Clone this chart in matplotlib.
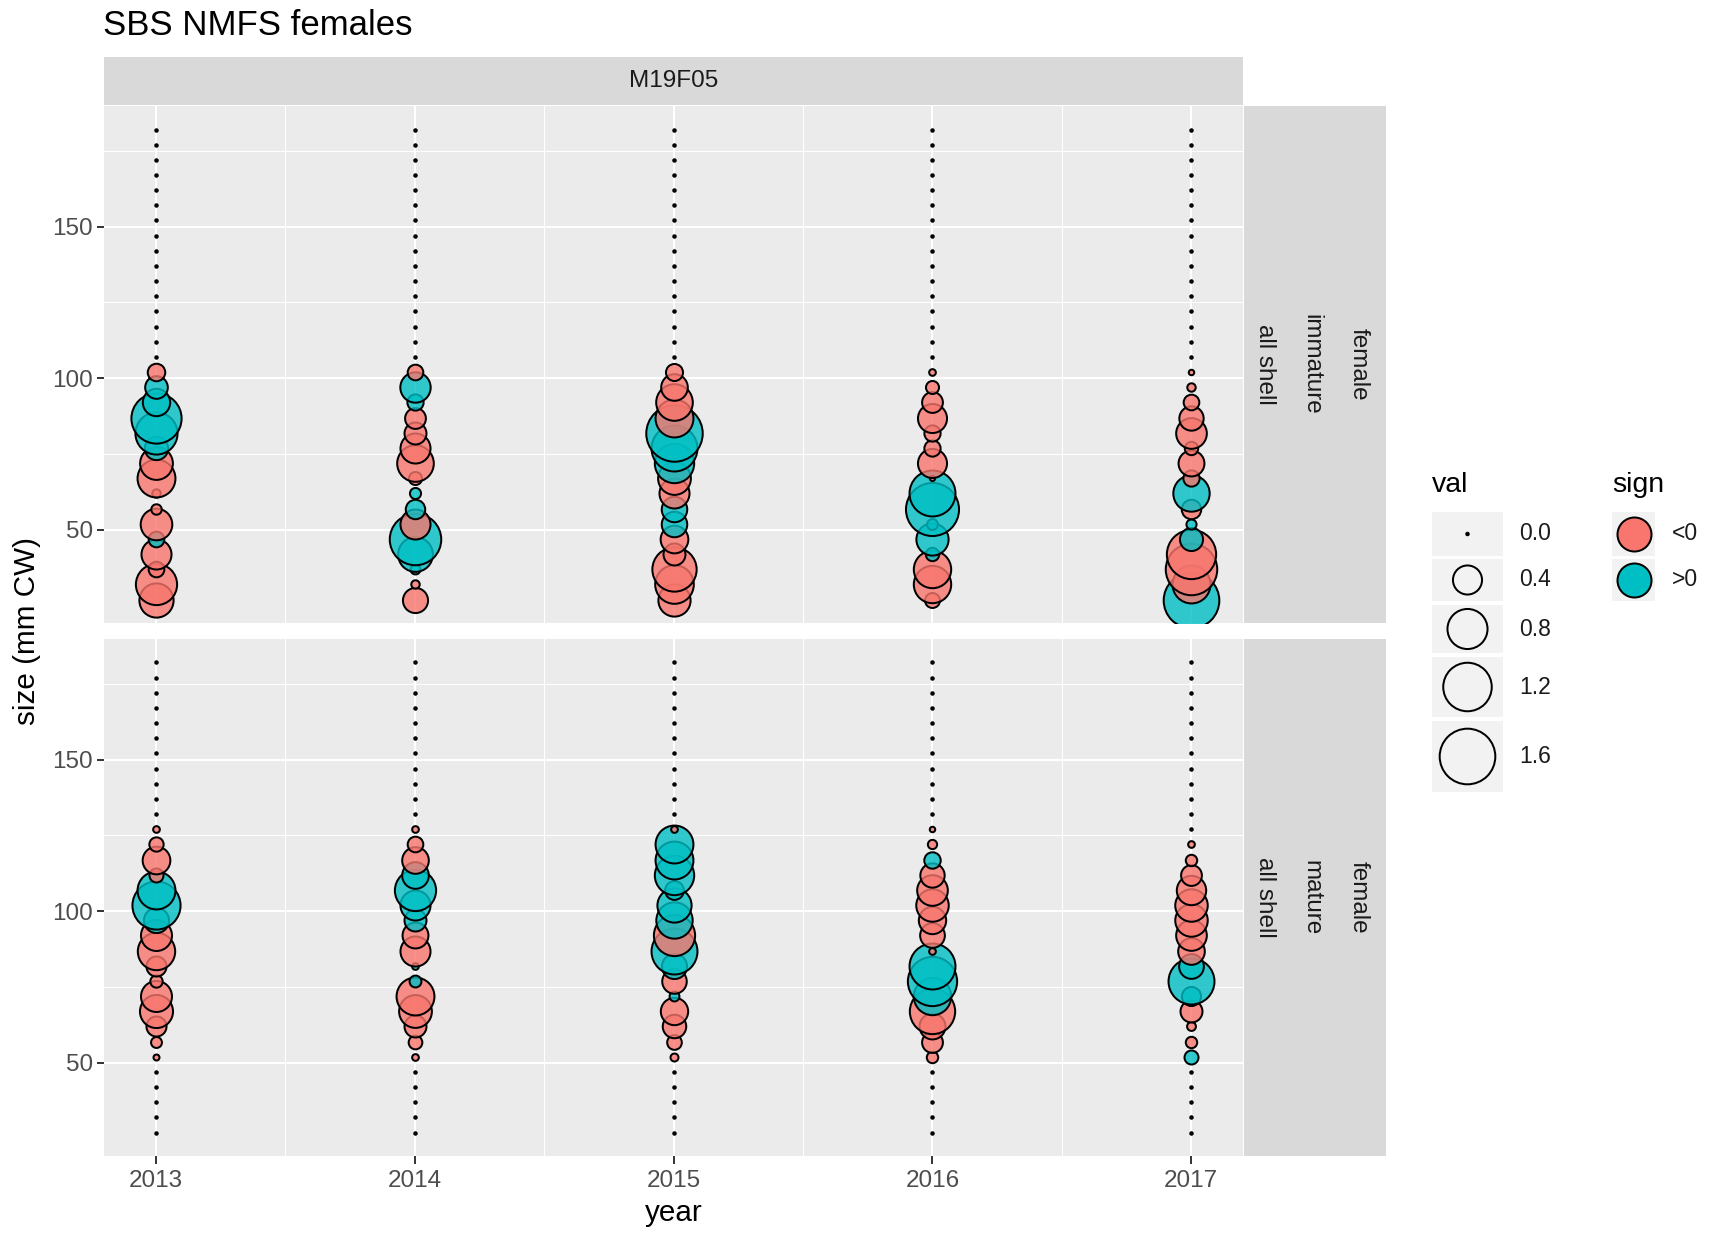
import numpy as np
import matplotlib
matplotlib.use("Agg")
import matplotlib.pyplot as plt
from matplotlib.patches import Rectangle

plt.rcParams["font.family"] = ["Liberation Sans", "DejaVu Sans"]

# -----------------------
# Data
# -----------------------

years = [2013, 2014, 2015, 2016, 2017]

size_bins = [27, 32, 37, 42, 47, 52, 57, 62, 67, 72, 77, 82, 87, 92, 97, 102,
             107, 112, 117, 122, 127, 132, 137, 142, 147, 152, 157, 162, 167,
             172, 177, 182]

# immature: values for size bins 27 .. 102 (larger bins are 0)
imm_2013 = [-0.57, -0.85, -0.098, -0.43, 0.098, -0.48, -0.036, -0.02, -0.71, -0.52, 0.245, 0.89, 1.29, 0.35, 0.23, -0.128]
imm_2014 = [-0.29, -0.02, 0.031, 0.59, 1.36, -0.43, 0.163, 0.042, -0.063, -0.66, -0.43, -0.215, -0.19, 0.107, 0.44, -0.098]
imm_2015 = [-0.5, -0.74, -0.99, -0.215, -0.36, 0.3, 0.3, -0.43, -0.52, 0.77, 1.07, 1.65, -0.71, -0.66, -0.33, -0.12]
imm_2016 = [-0.088, -0.69, -0.69, 0.067, 0.5, 0.04, 1.45, 1.07, -0.004, -0.4, -0.107, -0.107, -0.4, -0.19, -0.063, -0.01]
imm_2017 = [1.6, -0.71, -1.36, -1.24, 0.24, 0.033, -0.163, 0.65, -0.107, -0.31, -0.067, -0.45, -0.27, -0.098, -0.02, -0.005]

# mature: values for size bins 47 .. 132 (other bins are 0)
mat_2013 = [0, -0.007, -0.04, -0.175, -0.53, -0.46, -0.055, -0.175, -0.69, -0.46, 0.29, 1.18, 0.71, -0.075, -0.36, -0.079, -0.01, 0]
mat_2014 = [0, -0.01, -0.071, -0.215, -0.52, -0.71, 0.05, 0.01, -0.43, -0.31, 0.215, 0.43, 0.85, 0.33, -0.33, -0.098, -0.01, 0]
mat_2015 = [0, -0.017, -0.084, -0.25, -0.35, 0.031, -0.275, 0.29, 1.07, -0.85, 0.65, 0.57, 0.15, 0.77, 0.71, 0.71, -0.01, 0]
mat_2016 = [0, -0.045, -0.19, -0.31, -1.04, 0.69, 1.24, 1.07, -0.01, -0.28, -0.35, -0.51, -0.45, -0.27, 0.11, -0.026, -0.005, 0]
mat_2017 = [0, 0.075, -0.045, -0.023, -0.215, 0.157, 1.07, 0.28, -0.33, -0.45, -0.51, -0.51, -0.41, -0.19, -0.045, -0.01, 0, 0]

imm_values = [imm_2013, imm_2014, imm_2015, imm_2016, imm_2017]
mat_values = [mat_2013, mat_2014, mat_2015, mat_2016, mat_2017]

legend_vals = [0.0, 0.4, 0.8, 1.2, 1.6]
legend_labels = ["0.0", "0.4", "0.8", "1.2", "1.6"]
sign_labels = ["<0", ">0"]

strip_top = "M19F05"
strip_rows = [["all shell", "immature", "female"], ["all shell", "mature", "female"]]

# -----------------------
# Helpers
# -----------------------

W, H, DPI = 1713, 1233, 100
PINK = "#F8766D"
CYAN = "#00BFC4"
PX = 72 / DPI  # points per pixel


def to_full(vals, first_bin):
    out = np.zeros(len(size_bins))
    i0 = size_bins.index(first_bin)
    out[i0:i0 + len(vals)] = vals
    return out


def marker_area(v):
    d_px = 4.5 + 42 * np.sqrt(np.abs(v))
    return ((d_px - 2) * PX) ** 2


def fig_box(x0, y0, x1, y1):
    return [x0 / W, 1 - y1 / H, (x1 - x0) / W, (y1 - y0) / H]


# -----------------------
# Figure
# -----------------------

fig = plt.figure(figsize=(W / DPI, H / DPI), dpi=DPI)

panel_px = [(104, 106, 1243, 623), (104, 639, 1243, 1156)]
panels = [(imm_values, 27), (mat_values, 47)]

for k, ((vals_list, first_bin), box) in enumerate(zip(panels, panel_px)):
    ax = fig.add_axes(fig_box(*box))
    ax.set_facecolor("#EBEBEB")
    for s in ax.spines.values():
        s.set_visible(False)

    ax.set_xlim(2012.8, 2017.2)
    ax.set_ylim(19.25, 189.75)
    ax.set_xticks(years)
    ax.set_xticks([2013.5, 2014.5, 2015.5, 2016.5], minor=True)
    ax.set_yticks([50, 100, 150])
    ax.set_yticks([75, 125, 175], minor=True)
    ax.grid(which="major", color="white", linewidth=1.5)
    ax.grid(which="minor", color="white", linewidth=0.75)
    ax.set_axisbelow(True)
    ax.tick_params(which="minor", length=0)
    ax.tick_params(which="major", color="#333333", length=5.4, width=1.4,
                   labelsize=17.5, labelcolor="#4D4D4D", pad=2.5)
    ax.tick_params(axis="x", which="major", pad=5)
    if k == 0:
        ax.tick_params(axis="x", which="major", length=0, labelbottom=False)

    for yr, vals in zip(years, vals_list):
        v = to_full(vals, first_bin)
        colors = [CYAN if x > 0 else PINK for x in v]
        # ascending size order: larger bins drawn on top
        for sz, val, c in zip(size_bins, v, colors):
            ax.scatter([yr], [sz], s=marker_area(val), facecolor=c,
                       edgecolor="black", linewidth=2 * PX, zorder=3)
    for coll in ax.collections:
        fc = coll.get_facecolor()
        fc[:, 3] = 0.8
        coll.set_facecolor(fc)

    # right strip
    x0, y0, x1, y1 = box
    sax = fig.add_axes(fig_box(1244, y0, 1386, y1))
    sax.set_facecolor("#D9D9D9")
    sax.set_xticks([])
    sax.set_yticks([])
    for s in sax.spines.values():
        s.set_visible(False)
    for xr, lab in zip([0.145, 0.475, 0.805], strip_rows[k]):
        sax.text(xr, 0.5, lab, rotation=-90, ha="center", va="center",
                 fontsize=17.5, color="#1A1A1A", transform=sax.transAxes)

# top strip
tax = fig.add_axes(fig_box(104, 57, 1243, 105))
tax.set_facecolor("#D9D9D9")
tax.set_xticks([])
tax.set_yticks([])
for s in tax.spines.values():
    s.set_visible(False)
tax.text(0.5, 0.5, strip_top, ha="center", va="center", fontsize=17.5,
         color="#1A1A1A", transform=tax.transAxes)

# titles
fig.text(103 / W, 1 - 35 / H, "SBS NMFS females", fontsize=25,
         ha="left", va="baseline")
fig.text(673.5 / W, 1 - 1213 / H, "year", fontsize=21.3, ha="center", va="center")
fig.text(27 / W, 1 - 631 / H, "size (mm CW)", fontsize=21.3, rotation=90,
         ha="center", va="center")

# -----------------------
# Legend
# -----------------------

lax = fig.add_axes([0, 0, 1, 1], zorder=5)
lax.set_xlim(0, W)
lax.set_ylim(H, 0)
lax.axis("off")

lax.text(1432, 485, "val", fontsize=20.5, ha="left", va="center")
key_rows = [(512, 556), (559, 601), (605, 653), (657, 717), (721, 792)]
for (ya, yb), v, lab in zip(key_rows, legend_vals, legend_labels):
    lax.add_patch(Rectangle((1432, ya), 71, yb - ya, facecolor="#F2F2F2",
                            edgecolor="none"))
    lax.scatter([1467.5], [(ya + yb) / 2], s=marker_area(v), facecolor="none",
                edgecolor="black", linewidth=2 * PX, zorder=3)
    lax.text(1519, (ya + yb) / 2, lab, fontsize=16.5, color="#1A1A1A",
             ha="left", va="center")

lax.text(1612, 485, "sign", fontsize=20.5, ha="left", va="center")
for (ya, yb), c, lab in zip(key_rows[:2], [PINK, CYAN], sign_labels):
    lax.add_patch(Rectangle((1612, ya), 43, yb - ya, facecolor="#F2F2F2",
                            edgecolor="none"))
    lax.scatter([1633.5], [(ya + yb) / 2], s=(34 * PX) ** 2, facecolor=c,
                edgecolor="black", linewidth=2 * PX, zorder=3)
    lax.text(1672, (ya + yb) / 2, lab, fontsize=16.5, color="#1A1A1A",
             ha="left", va="center")

fig.savefig("out.png", dpi=DPI, facecolor="white")
